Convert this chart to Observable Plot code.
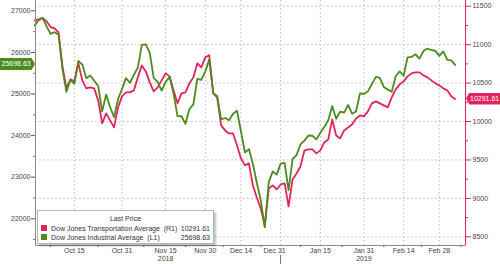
<!DOCTYPE html>
<html><head><meta charset="utf-8">
<script src="https://cdn.jsdelivr.net/npm/d3@7"></script>
<script src="https://cdn.jsdelivr.net/npm/@observablehq/plot@0.6"></script>
<style>
html,body{margin:0;padding:0;background:#fff;}
#wrap{position:relative;width:500px;height:264px;font-family:"Liberation Sans",Arial,sans-serif;overflow:hidden;}
#wrap svg{display:block;}
.tag{position:absolute;height:12px;line-height:12px;font-size:7px;color:#fff;white-space:nowrap;box-sizing:border-box;}
.legend{position:absolute;background:#fff;border:1px solid #b4b4b4;box-shadow:2px 2px 2px rgba(0,0,0,0.25);font-size:7px;color:#333;}
.legend .row{position:absolute;left:3px;right:3px;height:9px;line-height:9px;white-space:pre;}
.legend .sw{position:absolute;left:0;top:1px;width:6px;height:6px;}
.legend .lab{position:absolute;left:10px;}
.legend .val{position:absolute;right:0;}
.sep{position:absolute;width:1px;background:#777;}
</style></head><body><div id="wrap"></div>
<script>
const dates = [
"2018-10-01","2018-10-02","2018-10-03","2018-10-04","2018-10-05","2018-10-08","2018-10-09","2018-10-10","2018-10-11","2018-10-12","2018-10-15","2018-10-16","2018-10-17","2018-10-18","2018-10-19","2018-10-22","2018-10-23","2018-10-24","2018-10-25","2018-10-26","2018-10-29","2018-10-30","2018-10-31",
"2018-11-01","2018-11-02","2018-11-05","2018-11-06","2018-11-07","2018-11-08","2018-11-09","2018-11-12","2018-11-13","2018-11-14","2018-11-15","2018-11-16","2018-11-19","2018-11-20","2018-11-21","2018-11-23","2018-11-26","2018-11-27","2018-11-28","2018-11-29","2018-11-30",
"2018-12-03","2018-12-04","2018-12-06","2018-12-07","2018-12-10","2018-12-11","2018-12-12","2018-12-13","2018-12-14","2018-12-17","2018-12-18","2018-12-19","2018-12-20","2018-12-21","2018-12-24","2018-12-26","2018-12-27","2018-12-28","2018-12-31",
"2019-01-02","2019-01-03","2019-01-04","2019-01-07","2019-01-08","2019-01-09","2019-01-10","2019-01-11","2019-01-14","2019-01-15","2019-01-16","2019-01-17","2019-01-18","2019-01-22","2019-01-23","2019-01-24","2019-01-25","2019-01-28","2019-01-29","2019-01-30","2019-01-31",
"2019-02-01","2019-02-04","2019-02-05","2019-02-06","2019-02-07","2019-02-08","2019-02-11","2019-02-12","2019-02-13","2019-02-14","2019-02-15","2019-02-19","2019-02-20","2019-02-21","2019-02-22","2019-02-25","2019-02-26","2019-02-27","2019-02-28",
"2019-03-01","2019-03-04","2019-03-05","2019-03-06"];

// Dow Jones Industrial Average (left axis, L1)
const djia = [
26651,26774,26828,26627,26447,26487,26431,25599,25053,25340,25251,25798,25707,25379,25444,25317,25191,24583,24985,24688,24443,24875,25116,
25381,25271,25462,25635,26180,26191,25989,25387,25286,25081,25289,25413,25017,24466,24465,24286,24640,24749,25366,25339,25538,
25826,25027,24948,24389,24423,24370,24527,24597,24101,23593,23676,23324,22860,22445,21792,22878,23139,23062,23327,
23346,22686,23433,23531,23787,23879,24002,23996,23910,24066,24207,24370,24706,24404,24576,24553,24737,24528,24580,25015,25000,
25064,25239,25412,25390,25170,25106,25053,25426,25543,25439,25883,25891,25954,25851,26032,26092,26058,26037,25916,
26026,25820,25807,25698.63];

// Dow Jones Transportation Average (right axis, R1)
const djt = [
11316,11329,11349,11303,11229,11212,11160,10717,10431,10548,10522,10757,10535,10431,10444,10431,10275,9975,10106,10014,9923,10184,10327,
10379,10379,10405,10574,10730,10652,10509,10392,10444,10535,10626,10587,10405,10236,10366,10379,10496,10574,10757,10704,10835,
10861,10366,10314,9949,9884,9845,9845,9689,9520,9429,9455,9168,9012,8869,8647,9129,9168,9116,9181,
9194,8895,9246,9324,9415,9624,9637,9637,9585,9624,9728,9767,10027,9819,9780,9884,9923,9962,10040,10079,10066,
10132,10236,10262,10236,10210,10184,10314,10418,10483,10522,10587,10626,10639,10639,10600,10574,10535,10496,10470,
10431,10405,10327,10291.61];

const leftTicks = [22000,23000,24000,25000,26000,27000];
const leftMinor = [21500,22500,23500,24500,25500,26500];
const rightTicks = [8500,9000,9500,10000,10500,11000,11500];
const rightMinor = [8750,9250,9750,10250,10750,11250];
const xTickDates = ["2018-10-15","2018-10-31","2018-11-15","2018-11-30","2018-12-14","2018-12-31","2019-01-15","2019-01-31","2019-02-14","2019-02-28"];
const xTickLabels = ["Oct 15","Oct 31","Nov 15","Nov 30","Dec 14","Dec 31","Jan 15","Jan 31","Feb 14","Feb 28"];
const yearDates = ["2018-11-15","2019-01-31"];
const yearLabels = ["2018","2019"];
const seriesNames = ["Dow Jones Transportation Average", "Dow Jones Industrial Average"];
const seriesAxes = ["(R1)", "(L1)"];
const legendTitle = "Last Price";

const red = "#e3245c", green = "#4c8a1e";
const lastDJT = djt[djt.length-1], lastDJIA = djia[djia.length-1];

// scale domains (trading-day index on x)
const X0 = 0.2, X1 = 108.6;
const Y0 = 21358, Y1 = 27248;   // left axis
const R0 = 8387, R1 = 11574;    // right axis
const toL = v => Y0 + (v - R0) * (Y1 - Y0) / (R1 - R0);
const fromL = y => R0 + (y - Y0) * (R1 - R0) / (Y1 - Y0);
const ix = d => dates.indexOf(d);

const rows = dates.map((d, i) => ({i, date: d, djia: djia[i], djt: djt[i]}));
const xTickIdx = xTickDates.map(ix);
const minorIdx = xTickIdx.map((v, k) => k === 0 ? v - (xTickIdx[1]-v)/2 : (v + xTickIdx[k-1]) / 2).concat([xTickIdx[xTickIdx.length-1] + 5.5]);
const grid = {stroke: "#bcbcbc", strokeDasharray: "1.5,2.5", strokeWidth: 1};
const dec31 = ix("2018-12-31");

const chart = Plot.plot({
  width: 500, height: 264,
  marginLeft: 35, marginRight: 35, marginTop: 0, marginBottom: 19,
  style: {fontFamily: "'Liberation Sans', Arial, sans-serif", fontSize: "7px", color: "#333", background: "#fff", overflow: "visible"},
  x: {type: "linear", domain: [X0, X1], label: null},
  y: {domain: [Y0, Y1], label: null},
  marks: [
    Plot.ruleY(rightTicks.map(toL), grid),
    Plot.ruleX(xTickIdx, grid),
    Plot.line(rows, {x: "i", y: d => toL(d.djt), stroke: red, strokeWidth: 1.8}),
    Plot.line(rows, {x: "i", y: "djia", stroke: green, strokeWidth: 1.8}),
    Plot.ruleX([X0], {stroke: "#8a8a8a"}),
    Plot.ruleY([Y0], {stroke: "#8a8a8a"}),
    Plot.ruleX([X1], {stroke: red}),
    Plot.axisY({ticks: leftTicks, anchor: "left", label: null, tickSize: 4, tickPadding: 1, stroke: "#555", fill: "#444", fontSize: 7, tickFormat: d => String(d)}),
    Plot.axisY({ticks: leftMinor, anchor: "left", label: null, tickSize: 2, stroke: "#777", tickFormat: () => ""}),
    Plot.axisY({ticks: rightTicks.map(toL), anchor: "right", label: null, tickSize: 5, tickPadding: 2, stroke: red, fill: "#444", fontSize: 7, tickFormat: d => String(Math.round(fromL(d)))}),
    Plot.axisY({ticks: rightMinor.map(toL), anchor: "right", label: null, tickSize: 2, stroke: red, tickFormat: () => ""}),
    Plot.axisX({ticks: xTickIdx.filter(v => v !== dec31), anchor: "bottom", label: null, tickSize: 0, tickPadding: 3, fill: "#444", fontSize: 7, tickFormat: v => xTickLabels[xTickIdx.indexOf(v)]}),
    Plot.axisX({ticks: [dec31], anchor: "bottom", label: null, tickSize: 0, tickPadding: 3, dx: -6, fill: "#444", fontSize: 7, tickFormat: v => xTickLabels[xTickIdx.indexOf(v)]}),
    Plot.axisX({ticks: minorIdx, anchor: "bottom", label: null, tickSize: 2, stroke: "#666", tickFormat: () => ""}),
    Plot.axisX({ticks: yearDates.map(ix), anchor: "bottom", label: null, tickSize: 0, tickPadding: 11, fill: "#444", fontSize: 7, tickFormat: v => yearLabels[yearDates.map(ix).indexOf(v)]})
  ]
});

const wrap = document.getElementById("wrap");
wrap.appendChild(chart);
const xs = chart.scale("x"), ys = chart.scale("y");

// last price tags
const lt = document.createElement("div");
lt.className = "tag";
lt.textContent = lastDJIA.toFixed(2);
lt.style.cssText += `left:0px;width:35px;top:${ys.apply(lastDJIA) - 6.5}px;background:${green};clip-path:polygon(0 0,90% 0,100% 50%,90% 100%,0 100%);padding-left:1.5px;`;
wrap.appendChild(lt);
const rt = document.createElement("div");
rt.className = "tag";
rt.textContent = lastDJT.toFixed(2);
rt.style.cssText += `left:${xs.apply(X1) + 1}px;width:35px;top:${ys.apply(toL(lastDJT)) - 6}px;background:${red};clip-path:polygon(10% 0,100% 0,100% 100%,10% 100%,0 50%);padding-left:4px;`;
wrap.appendChild(rt);

// year separator
const sep = document.createElement("div");
sep.className = "sep";
sep.style.cssText += `left:${Math.round(xs.apply(dec31))}px;top:255px;height:9px;`;
wrap.appendChild(sep);

// legend
const lg = document.createElement("div");
lg.className = "legend";
lg.style.cssText += "left:37px;top:210px;width:175px;height:32px;";
const title = document.createElement("div");
title.style.cssText = "position:absolute;left:0;right:0;top:3px;text-align:center;line-height:9px;";
title.textContent = legendTitle;
lg.appendChild(title);
[[red, seriesNames[0], seriesAxes[0], lastDJT], [green, seriesNames[1], seriesAxes[1], lastDJIA]].forEach(([c, n, a, v], k) => {
  const r = document.createElement("div");
  r.className = "row";
  r.style.top = (13 + k * 9) + "px";
  r.innerHTML = `<span class="sw" style="background:${c}"></span><span class="lab">${n}  ${a}</span><span class="val">${v.toFixed(2)}</span>`;
  lg.appendChild(r);
});
wrap.appendChild(lg);
</script>
</body></html>
